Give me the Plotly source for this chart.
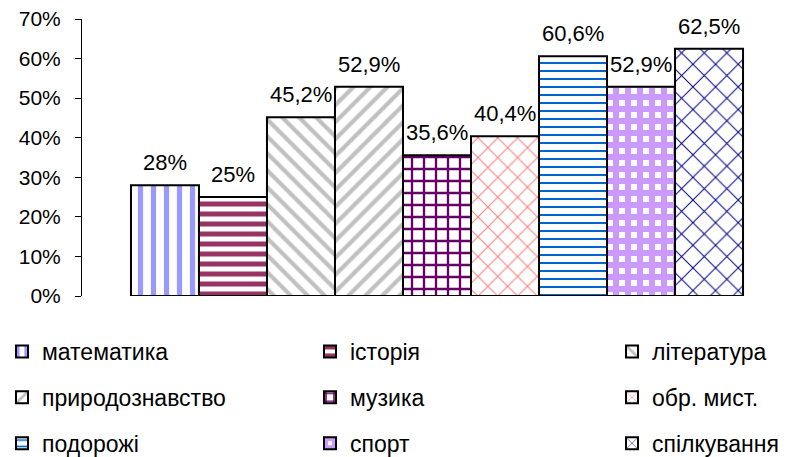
import plotly.graph_objects as go

# ---- data ----
categories = ["математика", "історія", "література", "природознавство", "музика",
              "обр. мист.", "подорожі", "спорт", "спілкування"]
values = [28, 25, 45.2, 52.9, 35.6, 40.4, 60.6, 52.9, 62.5]
value_labels = ["28%", "25%", "45,2%", "52,9%", "35,6%", "40,4%", "60,6%", "52,9%", "62,5%"]
y_ticks = [0, 10, 20, 30, 40, 50, 60, 70]
y_tick_labels = ["0%", "10%", "20%", "30%", "40%", "50%", "60%", "70%"]

# ---- styles ----
fg_colors = ["#9999FF", "#993366", "#C0C0C0", "#C0C0C0", "#660066",
             "#FF8080", "#0066CC", "#CC99FF", "#000080"]
pat_shapes = ["|", "-", "\\", "/", "+", "x", "-", "+", "x"]
pat_sizes = [13, 10, 12, 12, 12, 14, 8, 12, 16]
pat_solid = [0.4, 0.5, 0.35, 0.35, 0.35, 0.15, 0.25, 0.75, 0.12]

FONT = "Liberation Sans, Arial, sans-serif"

# page body has an 8px default margin -> figure is 8px smaller and offset
W, H = 798, 449
ML, MR, MT, MB = 74, 14, 11, 161
PW = W - ML - MR

fig = go.Figure()
legend_ids = ["legend", "legend2", "legend3"]
for i, cat in enumerate(categories):
    fig.add_trace(go.Bar(
        x=[i], y=[values[i]], width=1, name=cat,
        legend=legend_ids[i % 3], legendgroup=cat,
        marker=dict(color="white",
                    line=dict(color="black", width=2),
                    pattern=dict(shape=pat_shapes[i], fgcolor=fg_colors[i],
                                 bgcolor="white", size=pat_sizes[i],
                                 solidity=pat_solid[i], fillmode="replace")),
        hoverinfo="name+y",
    ))
    fig.add_annotation(x=i, y=values[i], text=value_labels[i], showarrow=False,
                       yanchor="bottom", yshift=8,
                       font=dict(family=FONT, size=22, color="black"))

# legend x positions in paper units (relative to plot area)
legend_x = [(-6 - ML) / PW, (302 - ML) / PW, (604 - ML) / PW]
legend_common = dict(orientation="v", xref="paper", yref="container",
                     xanchor="left", yanchor="top", y=1 - 322 / H,
                     tracegroupgap=13, bgcolor="rgba(0,0,0,0)",
                     font=dict(family=FONT, size=23, color="black"))

fig.update_layout(
    width=W, height=H,
    margin=dict(l=ML, r=MR, t=MT, b=MB, autoexpand=False),
    paper_bgcolor="white", plot_bgcolor="white",
    barmode="overlay",
    font=dict(family=FONT, color="black"),
    xaxis=dict(range=[-1.22, 9.22], visible=False, fixedrange=True),
    yaxis=dict(range=[0, 70], tickvals=y_ticks, ticktext=y_tick_labels,
               showgrid=False, zeroline=False, showline=True, linecolor="black",
               linewidth=1, ticks="outside", ticklen=6, tickcolor="black",
               ticklabelstandoff=10, ticklabeloverflow="allow",
               tickfont=dict(family=FONT, size=21, color="black")),
    legend=dict(x=legend_x[0], **legend_common),
    legend2=dict(x=legend_x[1], **legend_common),
    legend3=dict(x=legend_x[2], **legend_common),
    showlegend=True,
)

fig.write_html("out.html")
